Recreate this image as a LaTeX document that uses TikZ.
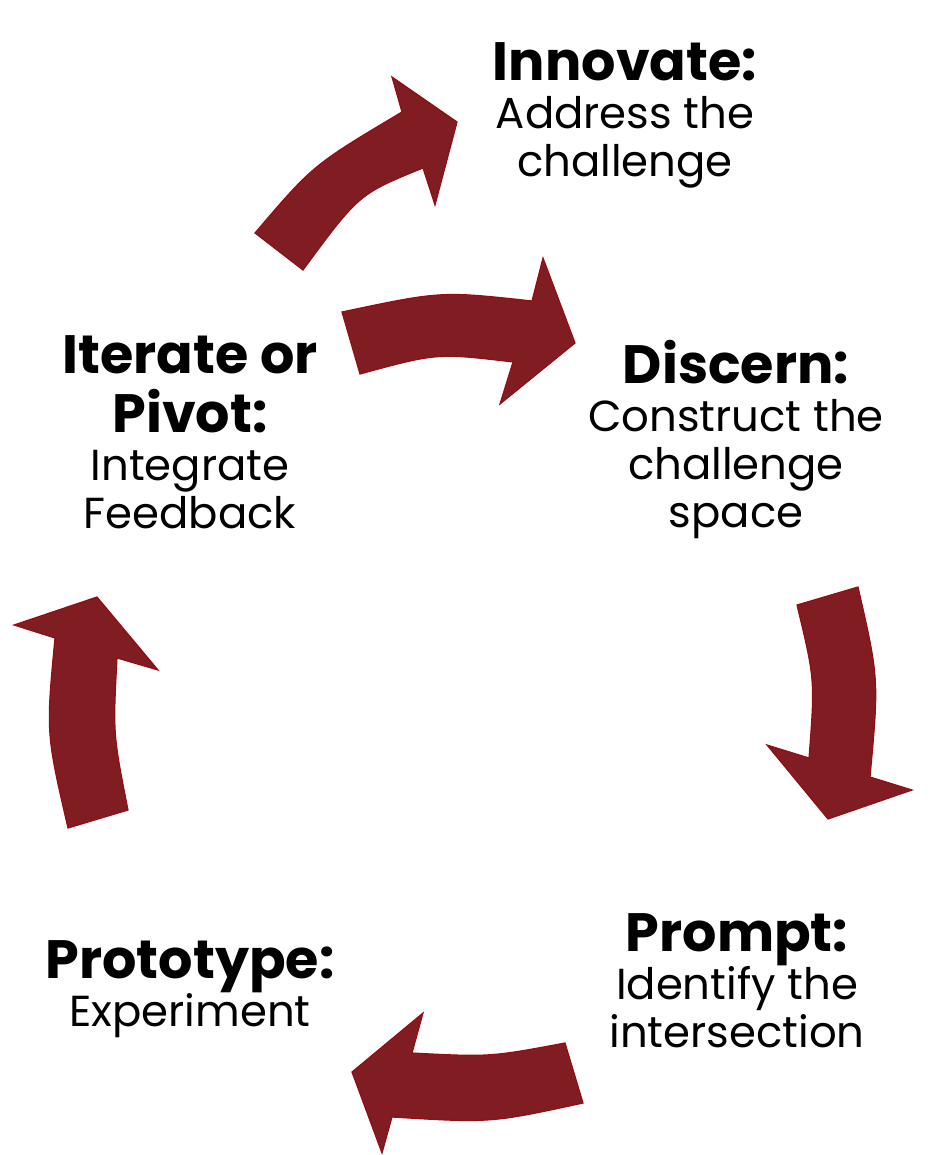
\documentclass[tikz,border=0pt]{standalone}
\usepackage{fontspec}
\setmainfont{Poppins}
\usepackage{tikz}
\definecolor{myred}{RGB}{128,29,34}
\definecolor{myedge}{RGB}{150,12,20}
\newcommand{\hd}[1]{{\fontsize{27}{30}\selectfont\bfseries #1}}

\begin{document}
\begin{tikzpicture}[x=0.5pt,y=-0.5pt,inner sep=0pt]
\tikzstyle{stage}=[align=center, anchor=north, font=\fontsize{21.7}{24}\selectfont]
\tikzstyle{block}=[fill=myred, draw=myedge, line width=0.6pt, line join=miter]
\useasboundingbox (0,0) rectangle (950,1155);
% stage labels
\node[stage] (inn) at (625,42) {\hd{Innovate:}\\Address the\\challenge};
\node[stage] (dis) at (736,340) {\hd{Discern:}\\Construct the\\challenge\\space};
\node[stage] (itp) at (190,335) {\hd{Iterate or}\\[5.5pt]\hd{Pivot:}\\Integrate\\Feedback};
\node[stage] (pro) at (737,913) {\hd{Prompt:}\\Identify the\\intersection};
\node[stage] (typ) at (190,940) {\hd{Prototype:}\\Experiment};
% curved block arrows
\fill[block] (255,233) .. controls (313,165) .. (402,112) -- (392,77) -- (457,122)
  -- (435,205) -- (423,168) .. controls (359,194) .. (303,270) -- cycle;
\fill[block] (342,312) .. controls (441,291) .. (532,301) -- (543,258) -- (575,343)
  -- (500,404) -- (513,362) .. controls (437,353) .. (360,374) -- cycle;
\fill[block] (858,587) .. controls (879,679) .. (870,777) -- (912,790) -- (828,819)
  -- (767,745) -- (809,758) .. controls (815,680) .. (797,605) -- cycle;
\fill[block] (565,1043) .. controls (490,1057) .. (412,1053) -- (423,1013) -- (352,1072)
  -- (382,1153) -- (392,1117) .. controls (491,1123) .. (583,1103) -- cycle;
\fill[block] (128,810) .. controls (113,734) .. (117,658) -- (158,670) -- (97,597)
  -- (14,625) -- (55,638) .. controls (46,733) .. (68,828) -- cycle;
\end{tikzpicture}
\end{document}
